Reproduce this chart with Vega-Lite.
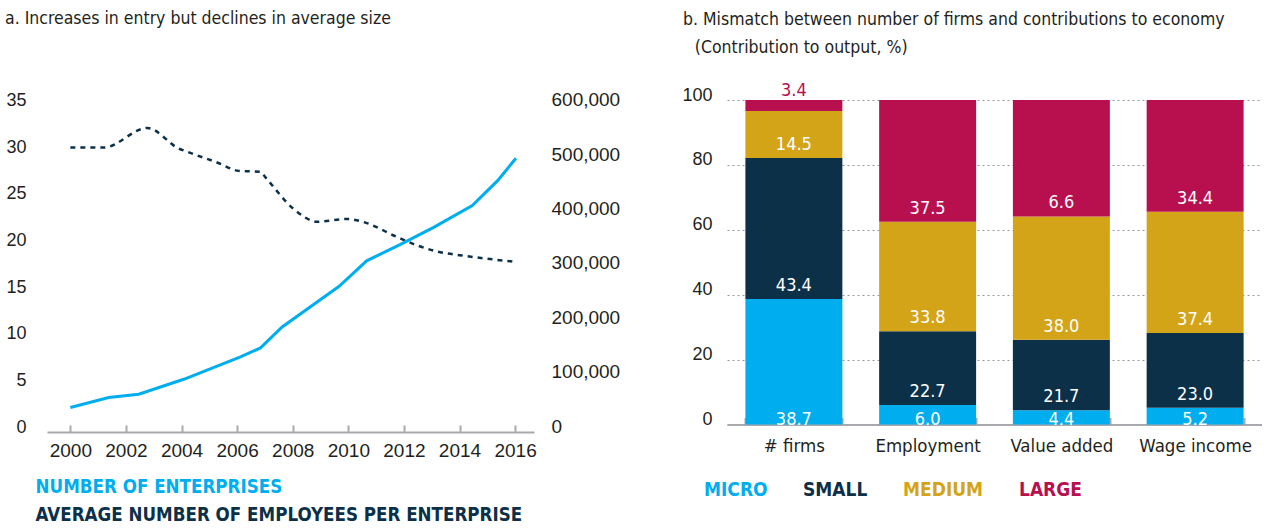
{
  "$schema": "https://vega.github.io/schema/vega-lite/v6.json",
  "background": "white",
  "padding": {"left": 5, "top": 10, "right": 0, "bottom": 0},
  "spacing": 61,
  "resolve": {"scale": {"color": "independent"}, "legend": {"color": "independent"}},
  "config": {
    "view": {"stroke": null},
    "font": "'DejaVu Sans Condensed', Roboto, sans-serif",
    "title": {"font": "'DejaVu Sans Condensed', Roboto, sans-serif", "fontWeight": "normal", "color": "#231f20", "fontSize": 17.5},
    "axis": {"labelFont": "Liberation Sans", "labelColor": "#231f20"}
  },
  "datasets": {
    "left": [
      {"series": "NUMBER OF ENTERPRISES", "year": 2000.0, "value": 45000},
      {"series": "NUMBER OF ENTERPRISES", "year": 2001.38, "value": 63300},
      {"series": "NUMBER OF ENTERPRISES", "year": 2002.46, "value": 69400},
      {"series": "NUMBER OF ENTERPRISES", "year": 2004.08, "value": 96900},
      {"series": "NUMBER OF ENTERPRISES", "year": 2006.12, "value": 138000},
      {"series": "NUMBER OF ENTERPRISES", "year": 2006.84, "value": 154500},
      {"series": "NUMBER OF ENTERPRISES", "year": 2007.62, "value": 193000},
      {"series": "NUMBER OF ENTERPRISES", "year": 2009.67, "value": 267900},
      {"series": "NUMBER OF ENTERPRISES", "year": 2010.66, "value": 314700},
      {"series": "NUMBER OF ENTERPRISES", "year": 2011.88, "value": 345000},
      {"series": "NUMBER OF ENTERPRISES", "year": 2013.07, "value": 376200},
      {"series": "NUMBER OF ENTERPRISES", "year": 2014.46, "value": 416200},
      {"series": "NUMBER OF ENTERPRISES", "year": 2015.37, "value": 462000},
      {"series": "NUMBER OF ENTERPRISES", "year": 2016.03, "value": 503100},
      {"series": "AVERAGE NUMBER OF EMPLOYEES PER ENTERPRISE", "year": 2000.0, "value": 30.5},
      {"series": "AVERAGE NUMBER OF EMPLOYEES PER ENTERPRISE", "year": 2001.2, "value": 30.5},
      {"series": "AVERAGE NUMBER OF EMPLOYEES PER ENTERPRISE", "year": 2002.77, "value": 32.6},
      {"series": "AVERAGE NUMBER OF EMPLOYEES PER ENTERPRISE", "year": 2003.9, "value": 30.4},
      {"series": "AVERAGE NUMBER OF EMPLOYEES PER ENTERPRISE", "year": 2004.2, "value": 30.05},
      {"series": "AVERAGE NUMBER OF EMPLOYEES PER ENTERPRISE", "year": 2005.28, "value": 28.9},
      {"series": "AVERAGE NUMBER OF EMPLOYEES PER ENTERPRISE", "year": 2006.06, "value": 28.0},
      {"series": "AVERAGE NUMBER OF EMPLOYEES PER ENTERPRISE", "year": 2006.84, "value": 27.9},
      {"series": "AVERAGE NUMBER OF EMPLOYEES PER ENTERPRISE", "year": 2007.02, "value": 27.3},
      {"series": "AVERAGE NUMBER OF EMPLOYEES PER ENTERPRISE", "year": 2008.04, "value": 23.9},
      {"series": "AVERAGE NUMBER OF EMPLOYEES PER ENTERPRISE", "year": 2008.88, "value": 22.55},
      {"series": "AVERAGE NUMBER OF EMPLOYEES PER ENTERPRISE", "year": 2009.96, "value": 22.85},
      {"series": "AVERAGE NUMBER OF EMPLOYEES PER ENTERPRISE", "year": 2010.56, "value": 22.5},
      {"series": "AVERAGE NUMBER OF EMPLOYEES PER ENTERPRISE", "year": 2011.76, "value": 20.9},
      {"series": "AVERAGE NUMBER OF EMPLOYEES PER ENTERPRISE", "year": 2012.48, "value": 20.0},
      {"series": "AVERAGE NUMBER OF EMPLOYEES PER ENTERPRISE", "year": 2013.2, "value": 19.35},
      {"series": "AVERAGE NUMBER OF EMPLOYEES PER ENTERPRISE", "year": 2014.29, "value": 18.85},
      {"series": "AVERAGE NUMBER OF EMPLOYEES PER ENTERPRISE", "year": 2016.0, "value": 18.25}
    ],
    "right": [
      {"category": "# firms", "size": "MICRO", "value": 38.7, "label": "38.7"},
      {"category": "# firms", "size": "SMALL", "value": 43.4, "label": "43.4"},
      {"category": "# firms", "size": "MEDIUM", "value": 14.5, "label": "14.5"},
      {"category": "# firms", "size": "LARGE", "value": 3.4, "label": "3.4"},
      {"category": "Employment", "size": "MICRO", "value": 6.0, "label": "6.0"},
      {"category": "Employment", "size": "SMALL", "value": 22.7, "label": "22.7"},
      {"category": "Employment", "size": "MEDIUM", "value": 33.8, "label": "33.8"},
      {"category": "Employment", "size": "LARGE", "value": 37.5, "label": "37.5"},
      {"category": "Value added", "size": "MICRO", "value": 4.4, "label": "4.4"},
      {"category": "Value added", "size": "SMALL", "value": 21.7, "label": "21.7"},
      {"category": "Value added", "size": "MEDIUM", "value": 38.0, "label": "38.0"},
      {"category": "Value added", "size": "LARGE", "value": 35.9, "label": "6.6"},
      {"category": "Wage income", "size": "MICRO", "value": 5.2, "label": "5.2"},
      {"category": "Wage income", "size": "SMALL", "value": 23.0, "label": "23.0"},
      {"category": "Wage income", "size": "MEDIUM", "value": 37.4, "label": "37.4"},
      {"category": "Wage income", "size": "LARGE", "value": 34.4, "label": "34.4"}
    ]
  },
  "hconcat": [
    {
      "width": 487,
      "height": 332,
      "title": {"text": "a. Increases in entry but declines in average size", "anchor": "start", "frame": "group", "dx": -42, "offset": 63},
      "data": {"name": "left"},
      "encoding": {
        "x": {
          "field": "year", "type": "quantitative",
          "scale": {"domain": [1999.16, 2016.68], "nice": false, "zero": false},
          "axis": {"title": null, "values": [2000, 2002, 2004, 2006, 2008, 2010, 2012, 2014, 2016], "format": "d", "labelFontSize": 19, "domainColor": "#a7a9ac", "domainWidth": 2, "tickColor": "#a7a9ac", "tickWidth": 2, "tickSize": -7, "labelPadding": 16, "grid": false}
        },
        "color": {
          "field": "series", "type": "nominal",
          "scale": {"domain": ["NUMBER OF ENTERPRISES", "AVERAGE NUMBER OF EMPLOYEES PER ENTERPRISE"], "range": ["#00aeef", "#0d3049"]},
          "legend": {"orient": "bottom", "direction": "vertical", "title": null, "symbolSize": 0, "symbolStrokeWidth": 0, "symbolOpacity": 0, "labelOffset": -30, "labelFont": "'DejaVu Sans Condensed', Roboto, sans-serif", "labelFontSize": 18.6, "labelFontWeight": "bold", "labelLimit": 0, "rowPadding": 9, "offset": 18,
            "labelColor": {"expr": "datum.value == 'NUMBER OF ENTERPRISES' ? '#00aeef' : '#0d3049'"}}
        }
      },
      "layer": [
        {
          "transform": [{"filter": "datum.series == 'AVERAGE NUMBER OF EMPLOYEES PER ENTERPRISE'"}],
          "mark": {"type": "line", "strokeDash": [5, 5], "strokeWidth": 2.5, "interpolate": "monotone"},
          "encoding": {
            "y": {"field": "value", "type": "quantitative", "scale": {"domain": [0, 35.6], "nice": false},
              "axis": {"title": null, "values": [0, 5, 10, 15, 20, 25, 30, 35], "labelFontSize": 18, "labelBaseline": "alphabetic", "labelPadding": 21, "domain": false, "ticks": false, "grid": false}}
          }
        },
        {
          "transform": [{"filter": "datum.series == 'NUMBER OF ENTERPRISES'"}],
          "mark": {"type": "line", "strokeWidth": 3},
          "encoding": {
            "y": {"field": "value", "type": "quantitative", "scale": {"domain": [0, 610300], "nice": false},
              "axis": {"orient": "right", "title": null, "values": [0, 100000, 200000, 300000, 400000, 500000, 600000], "format": ",d", "labelFontSize": 19, "labelBaseline": "alphabetic", "labelPadding": 17, "domain": false, "ticks": false, "grid": false}}
          }
        }
      ],
      "resolve": {"scale": {"y": "independent"}}
    },
    {
      "width": 535,
      "height": 324.5,
      "title": {"text": "b. Mismatch between number of firms and contributions  to economy", "subtitle": "\u200b\u2002\u2005(Contribution to output, %)", "anchor": "start", "frame": "group", "dx": -44, "offset": 26, "subtitleFont": "'DejaVu Sans Condensed', Roboto, sans-serif", "subtitleFontSize": 17.5, "subtitleColor": "#231f20", "subtitlePadding": 10},
      "data": {"name": "right"},
      "transform": [{"stack": "value", "groupby": ["category"], "as": ["y0", "y1"]}],
      "encoding": {
        "x": {
          "field": "category", "type": "nominal", "sort": null,
          "scale": {"paddingInner": 0.275, "paddingOuter": 0.1375},
          "axis": {"title": null, "labelAngle": 0, "labelFont": "'DejaVu Sans Condensed', Roboto, sans-serif", "labelFontSize": 18.5, "domainColor": "#a7a9ac", "domainWidth": 2, "tickColor": "#a7a9ac", "tickWidth": 2, "tickSize": -7, "tickBand": "extent", "labelPadding": 19}
        }
      },
      "layer": [
        {
          "mark": {"type": "bar"},
          "encoding": {
            "y": {"field": "y0", "type": "quantitative", "scale": {"domain": [0, 100], "nice": false},
              "axis": {"title": null, "values": [0, 20, 40, 60, 80, 100], "labelFontSize": 18, "labelBaseline": "alphabetic", "labelPadding": 15, "domain": false, "ticks": false, "grid": true, "gridDash": [2, 3], "gridColor": "#9a9a9a", "gridWidth": 1.2}},
            "y2": {"field": "y1"},
            "color": {
              "field": "size", "type": "nominal",
              "scale": {"domain": ["MICRO", "SMALL", "MEDIUM", "LARGE"], "range": ["#00aeef", "#0d3049", "#d4a418", "#b8104f"]},
              "legend": {"orient": "bottom", "direction": "horizontal", "title": null, "symbolSize": 0, "symbolStrokeWidth": 0, "symbolOpacity": 0, "labelOffset": -42, "labelFont": "'DejaVu Sans Condensed', Roboto, sans-serif", "labelFontSize": 19, "labelFontWeight": "bold", "labelLimit": 0, "columnPadding": 35, "offset": 25,
                "labelColor": {"expr": "datum.value == 'MICRO' ? '#00aeef' : datum.value == 'SMALL' ? '#0d3049' : datum.value == 'MEDIUM' ? '#d4a418' : '#b8104f'"}}
            }
          }
        },
        {
          "transform": [{"filter": "datum.size == 'MICRO'"}],
          "mark": {"type": "text", "font": "'DejaVu Sans Condensed', Roboto, sans-serif", "fontSize": 18, "color": "white", "baseline": "alphabetic", "dy": 0},
          "encoding": {
            "y": {"field": "y0", "type": "quantitative"},
            "text": {"field": "label"}
          }
        },
        {
          "transform": [{"filter": "datum.size != 'MICRO' && !(datum.size == 'LARGE' && datum.category == '# firms')"}],
          "mark": {"type": "text", "font": "'DejaVu Sans Condensed', Roboto, sans-serif", "fontSize": 18, "color": "white", "baseline": "alphabetic", "dy": -8},
          "encoding": {
            "y": {"field": "y0", "type": "quantitative"},
            "text": {"field": "label"}
          }
        },
        {
          "transform": [{"filter": "datum.size == 'LARGE' && datum.category == '# firms'"}],
          "mark": {"type": "text", "font": "'DejaVu Sans Condensed', Roboto, sans-serif", "fontSize": 18, "color": "#b8104f", "baseline": "alphabetic", "dy": -4},
          "encoding": {
            "y": {"field": "y1", "type": "quantitative"},
            "text": {"field": "label"}
          }
        }
      ]
    }
  ]
}
